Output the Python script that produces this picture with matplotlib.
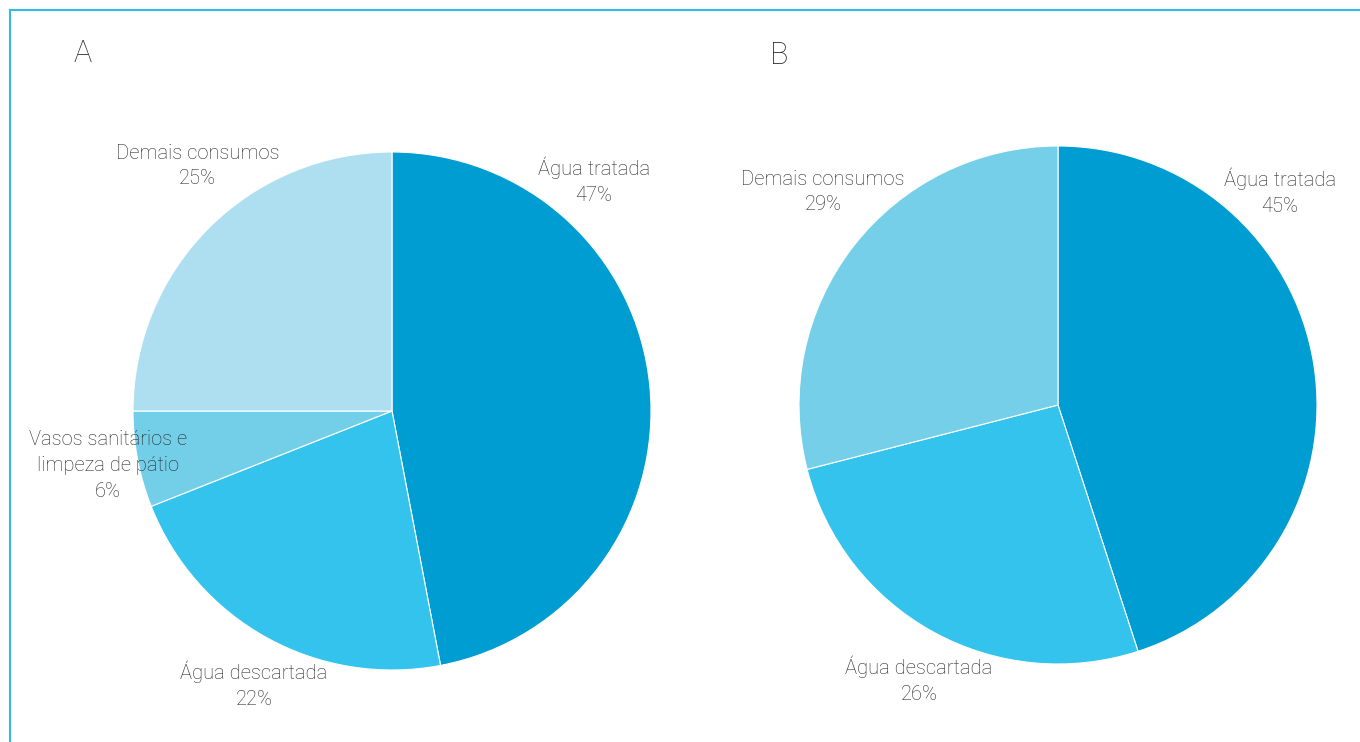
import matplotlib.pyplot as plt

# data
labels_a = ['Água tratada', 'Água descartada', 'Vasos sanitários e\nlimpeza de pátio', 'Demais consumos']
values_a = [47, 22, 6, 25]
labels_b = ['Água tratada', 'Água descartada', 'Demais consumos']
values_b = [45, 26, 29]

colors_a = ['#009dd3', '#33c3ec', '#73cfe8', '#aedff0']
colors_b = ['#009dd3', '#33c3ec', '#75cfe8']

# label positions (pie radius units)
pos_a = [(0.78, 0.89), (-0.533, -1.058), (-1.097, -0.21), (-0.75, 0.946)]
pos_b = [(0.857, 0.822), (-0.537, -1.062), (-0.907, 0.822)]

W, H = 1360, 742
fig = plt.figure(figsize=(W / 100, H / 100), dpi=100)

# thin frame on top and left
fig.add_artist(plt.Line2D([10 / W, 10 / W], [0, 1 - 10 / H], transform=fig.transFigure,
                          color='#33bbe6', lw=1.5))
fig.add_artist(plt.Line2D([10 / W, 1], [1 - 10 / H, 1 - 10 / H], transform=fig.transFigure,
                          color='#33bbe6', lw=1.5))

txt = dict(fontfamily='Roboto', fontweight='light', color='#262626')


def draw_pie(cx, cy, r, values, labels, colors, pos, letter, lx, ly):
    ax = fig.add_axes([(cx - r) / W, 1 - (cy + r) / H, 2 * r / W, 2 * r / H])
    ax.pie(values, colors=colors, startangle=90, counterclock=False,
           wedgeprops=dict(edgecolor='white', linewidth=0.8))
    ax.set_xlim(-1, 1)
    ax.set_ylim(-1, 1)
    ax.set_aspect('equal')
    for lab, v, (x, y) in zip(labels, values, pos):
        ax.text(x, y, f'{lab}\n{v}%', ha='center', va='center', fontsize=14.5,
                linespacing=1.45, clip_on=False, **txt)
    fig.text(lx / W, 1 - ly / H, letter, ha='center', va='center', fontsize=22, **txt)


draw_pie(392, 411, 259, values_a, labels_a, colors_a, pos_a, 'A', 83, 53)
draw_pie(1058, 405, 259, values_b, labels_b, colors_b, pos_b, 'B', 779, 56)

fig.savefig('out.png', dpi=100)
